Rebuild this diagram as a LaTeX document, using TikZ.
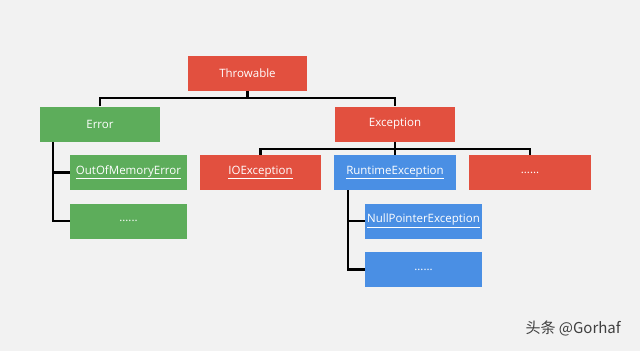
\documentclass[tikz,border=0pt]{standalone}
\usepackage{fontspec}
\setmainfont{Open Sans}
\newfontfamily\cjk{Noto Sans CJK SC}
\definecolor{bg}{HTML}{F2F2F2}
\definecolor{redb}{HTML}{E2503F}
\definecolor{greenb}{HTML}{5DAD5B}
\definecolor{blueb}{HTML}{4A8FE4}
\begin{document}
\begin{tikzpicture}[x=1pt,y=-1pt,
  box/.style={minimum width=118pt,minimum height=35pt,inner sep=0pt,text=white,font=\fontsize{11.5}{13}\selectfont},
  rbox/.style={box,fill=redb},
  gbox/.style={box,fill=greenb},
  bbox/.style={box,fill=blueb},
  link/.style={line width=2.6pt,black}]
\fill[bg] (0,0) rectangle (640,351);
\useasboundingbox (0,0) rectangle (640,351);
\node[rbox,minimum width=119pt] (thr) at (247.5,73) {Throwable};
\node[gbox,minimum width=120pt] (err) at (100,124) {Error};
\node[rbox,minimum width=120pt] (exc) at (395,124) {Exception};
\node[gbox,minimum width=117pt] (oom) at (128.5,172.5) {\underline{OutOfMemoryError}};
\node[gbox,minimum width=117pt] (gdots) at (128.5,221) {......};
\node[rbox,minimum width=121pt] (ioe) at (260.5,172.5) {\underline{IOException}};
\node[bbox,minimum width=122pt] (rte) at (395,172.5) {\underline{RuntimeException}};
\node[rbox,minimum width=122pt] (rdots) at (530,172.5) {......};
\node[bbox,minimum width=117pt] (npe) at (423.5,221) {\underline{NullPointerException}};
\node[bbox,minimum width=117pt] (bdots) at (423.5,269.5) {......};
\coordinate (j1) at (247.5,98);
\coordinate (j2) at (395,149);
\draw[link] (thr.south) -- (j1);
\draw[link] (err.north) |- (j1) -| (exc.north);
\draw[link] (exc.south) -- (j2);
\draw[link] (ioe.north) |- (j2) -| (rdots.north);
\draw[link] (j2) -- (rte.north);
\draw[link] (53,142) |- (gdots.west);
\draw[link] (53,172.5) -- (oom.west);
\draw[link] (348,190) |- (bdots.west);
\draw[link] (348,221) -- (npe.west);
\node[anchor=east,text=black!75,font=\cjk\fontsize{15}{17}\selectfont,inner sep=0pt] (wm) at (621,328) {头条 @Gorhaf};
\end{tikzpicture}
\end{document}
